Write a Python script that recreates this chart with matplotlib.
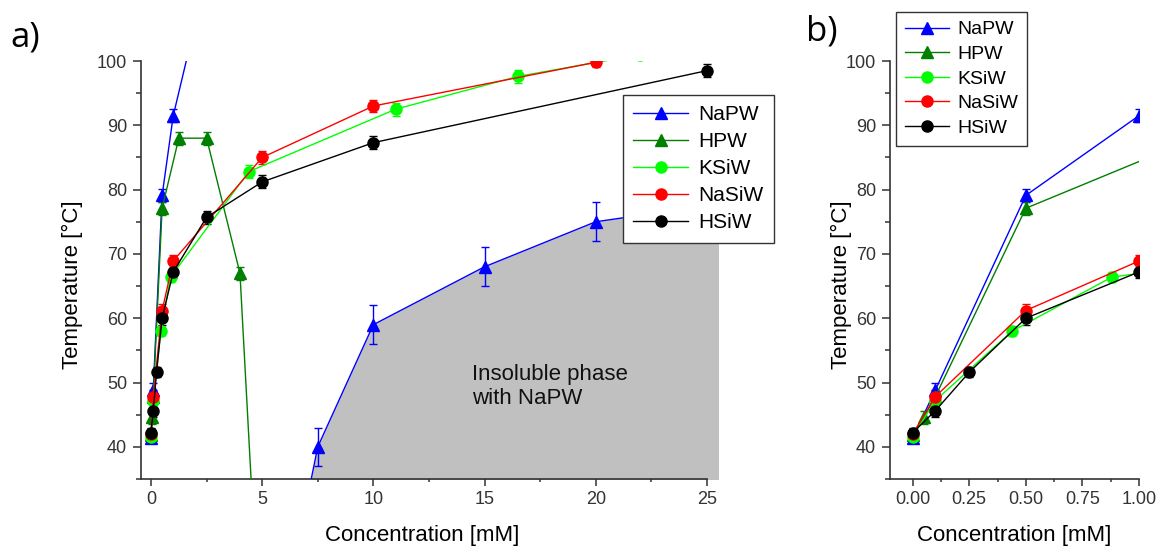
import numpy as np
import matplotlib.pyplot as plt
from matplotlib.ticker import MultipleLocator, FormatStrFormatter

plt.rcParams['font.family'] = ['Liberation Sans', 'DejaVu Sans']

# data (points beyond the axes only steer the clipped lines)
napw_x = [0.0, 0.1, 0.5, 1.0, 2.0]
napw_y = [41.4, 48.8, 79.1, 91.5, 106.0]
napw_e = [0.8, 1.2, 1.0, 1.0, 1.0]

# second NaPW branch = boundary of the insoluble phase
napw2_x = [7.0, 7.5, 10.0, 15.0, 20.0, 25.0, 26.0]
napw2_y = [31.5, 40.0, 59.0, 68.0, 75.0, 77.5, 78.0]
napw2_e = [0.0, 3.0, 3.0, 3.0, 3.0, 3.0, 0.0]

hpw_x = [0.0, 0.05, 0.1, 0.5, 1.25, 2.5, 4.0, 5.0]
hpw_y = [41.8, 44.6, 47.8, 77.1, 88.0, 88.0, 67.0, 3.0]
hpw_e = [0.8, 1.0, 1.0, 1.0, 1.0, 1.0, 1.0, 0.0]

ksiw_x = [0.0, 0.1, 0.44, 0.88, 4.4, 11.0, 16.5, 22.0]
ksiw_y = [41.6, 47.2, 58.0, 66.4, 82.8, 92.5, 97.6, 101.0]
ksiw_e = [0.8, 1.0, 0.8, 0.8, 1.0, 1.0, 1.0, 0.0]

nasiw_x = [0.0, 0.1, 0.5, 1.0, 5.0, 10.0, 20.0]
nasiw_y = [42.0, 47.8, 61.2, 68.9, 85.0, 93.0, 99.8]
nasiw_e = [0.8, 1.0, 1.0, 1.0, 1.0, 1.0, 0.8]

hsiw_x = [0.0, 0.1, 0.25, 0.5, 1.0, 2.5, 5.0, 10.0, 25.0]
hsiw_y = [42.2, 45.6, 51.6, 60.0, 67.2, 75.7, 81.2, 87.3, 98.5]
hsiw_e = [0.8, 1.0, 0.8, 1.0, 1.0, 1.0, 1.0, 1.0, 1.0]

series = [
    ("NaPW", napw_x, napw_y, napw_e, '#0000ff', '^'),
    ("HPW", hpw_x, hpw_y, hpw_e, '#007f00', '^'),
    ("KSiW", ksiw_x, ksiw_y, ksiw_e, '#00ff00', 'o'),
    ("NaSiW", nasiw_x, nasiw_y, nasiw_e, '#ff0000', 'o'),
    ("HSiW", hsiw_x, hsiw_y, hsiw_e, '#000000', 'o'),
]

grey = '#333333'

fig = plt.figure(figsize=(11.59, 5.47), dpi=100)
W, H = 1159.0, 547.0
ax1 = fig.add_axes([141 / W, (H - 479) / H, (718 - 141) / W, (479 - 61) / H])
ax2 = fig.add_axes([890 / W, (H - 479) / H, (1139 - 890) / W, (479 - 61) / H])


def draw(ax):
    handles = []
    for name, x, y, e, c, m in series:
        ms = 9 if m == '^' else 8
        ax.errorbar(x, y, yerr=e, fmt='none', ecolor=c, elinewidth=1,
                    capsize=3, capthick=1, zorder=3)
        h, = ax.plot(x, y, color=c, lw=1, marker=m, ms=ms, mec=c, mfc=c,
                     label=name, zorder=4)
        handles.append(h)
    return handles


def style(ax):
    for s in ['top', 'right']:
        ax.spines[s].set_visible(False)
    for s in ['left', 'bottom']:
        ax.spines[s].set_color(grey)
        ax.spines[s].set_linewidth(1.2)
    ax.set_ylim(35, 100)
    ax.yaxis.set_major_locator(MultipleLocator(10))
    ax.yaxis.set_minor_locator(MultipleLocator(5))
    ax.tick_params(which='both', direction='out', color=grey, labelcolor=grey,
                   labelsize=13, width=1.1)
    ax.tick_params(axis='y', which='major', length=6, pad=4)
    ax.tick_params(axis='y', which='minor', length=3.5)
    ax.tick_params(axis='x', which='major', length=5, pad=4)
    ax.tick_params(axis='x', which='minor', length=2.5)
    ax.set_xlabel("Concentration [mM]", fontsize=16)
    ax.set_ylabel("Temperature [°C]", fontsize=16)


# panel a
ax1.fill_between(napw2_x, napw2_y, 0, color='#c0c0c0', lw=0, zorder=1)
h = draw(ax1)
ax1.errorbar(napw2_x[1:-1], napw2_y[1:-1], yerr=napw2_e[1:-1], fmt='none',
             ecolor='#0000ff', elinewidth=1, capsize=3, capthick=1, zorder=3)
ax1.plot(napw2_x, napw2_y, color='#0000ff', lw=1, marker='^', ms=9, zorder=4)
style(ax1)
ax1.set_xlim(-0.45, 25.5)
ax1.spines['bottom'].set_bounds(-0.45, 25)
ax1.xaxis.set_major_locator(MultipleLocator(5))
ax1.xaxis.set_minor_locator(MultipleLocator(2.5))
ax1.xaxis.set_label_coords(0.487, -0.11)
ax1.yaxis.set_label_coords(-0.10, 0.464)
ax1.text(14.45, 49.4, "Insoluble phase\nwith NaPW", fontsize=16, ha='left',
         va='center', color='#111111', linespacing=1.2, zorder=5)
leg1 = ax1.legend(handles=h, loc='upper left', bbox_to_anchor=(623 / W, 1 - 95 / H),
                  bbox_transform=fig.transFigure, borderaxespad=0, fontsize=15,
                  fancybox=False, edgecolor=grey, framealpha=1, handlelength=2.6,
                  handletextpad=0.5, labelspacing=0.38, borderpad=0.5)
leg1.get_frame().set_linewidth(1.0)
leg1.set_zorder(10)

# panel b
h = draw(ax2)
style(ax2)
ax2.set_xlim(-0.1, 1.0)
ax2.xaxis.set_major_locator(MultipleLocator(0.25))
ax2.xaxis.set_minor_locator(MultipleLocator(0.125))
ax2.xaxis.set_major_formatter(FormatStrFormatter('%.2f'))
ax2.xaxis.set_label_coords(0.5, -0.11)
ax2.yaxis.set_label_coords(-0.153, 0.464)
leg2 = ax2.legend(handles=h, loc='upper left', bbox_to_anchor=(896 / W, 1 - 12 / H),
                  bbox_transform=fig.transFigure, borderaxespad=0, fontsize=14,
                  fancybox=False, edgecolor=grey, framealpha=1, handlelength=2.3,
                  handletextpad=0.4, labelspacing=0.36, borderpad=0.45)
leg2.get_frame().set_linewidth(1.0)
leg2.set_zorder(10)

fig.text(10 / W, 1 - 38 / H, "a)", fontsize=25, family='Open Sans', va='center')
fig.text(806 / W, 1 - 32 / H, "b)", fontsize=25, family='Open Sans', va='center')

fig.savefig('out.png', dpi=100)
